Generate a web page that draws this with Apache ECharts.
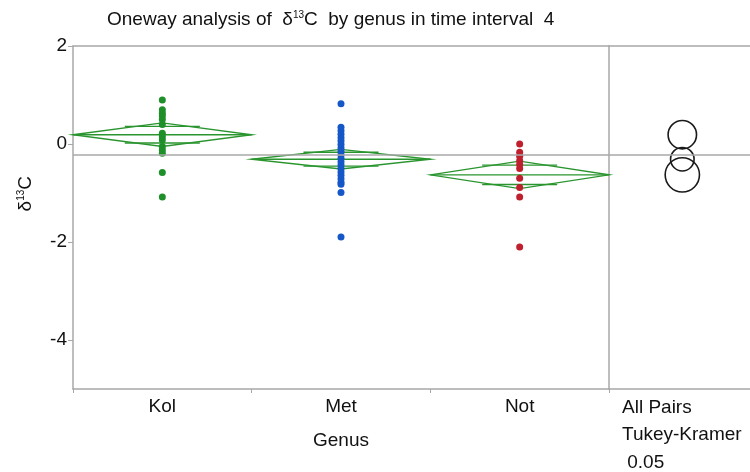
<!DOCTYPE html>
<html>
<head>
<meta charset="utf-8">
<script src="https://cdn.jsdelivr.net/npm/echarts@6/dist/echarts.min.js"></script>
<style>
  html, body { margin: 0; padding: 0; background: #fff; }
  #chart { width: 750px; height: 472px; }
</style>
</head>
<body>
<div id="chart"></div>
<script>
// genus categories and measured δ13C values
const genera = ['Kol', 'Met', 'Not']
const kolValues = [0.9, 0.7, 0.63, 0.57, 0.5, 0.4, 0.22, 0.15, 0.08, -0.05, -0.12, -0.19, -0.58, -1.08]
const metValues = [0.82, 0.34, 0.27, 0.2, 0.13, 0.06, -0.01, -0.08, -0.15, -0.22, -0.29, -0.36, -0.43, -0.5, -0.57, -0.64, -0.71, -0.78, -0.82, -0.99, -1.9]
const notValues = [0.0, -0.17, -0.25, -0.34, -0.42, -0.5, -0.7, -0.89, -1.08, -2.1]

// means diamonds + comparison circles
const groupMeans = [0.19, -0.31, -0.63]
const ciHalfWidths = [0.24, 0.2, 0.28]
const circleRadii = [0.29, 0.24, 0.35]
const grandMean = -0.22
const yTicks = [2, 0, -2, -4]

const FONT = '"Liberation Sans", Arial, sans-serif'
const AXIS_GRAY = '#a8a8a8'
const DIAMOND_GREEN = '#2a952f'
const pointColors = ['#1f8f2a', '#1657c8', '#c01f2e']

const chart = echarts.init(document.getElementById('chart'))

const toPoints = (values, idx) => values.map((v) => [idx, v])

// draws the means diamond with overlap marks for one group
const renderDiamond = (params, api) => {
  const mean = api.value(1)
  const hw = api.value(2)
  const c = api.coord([api.value(0), mean])
  const half = api.size([1, 0])[0] / 2
  const h = api.size([0, hw])[1]
  const ov = h / Math.SQRT2
  const markHalf = half * 0.42
  const style = { stroke: DIAMOND_GREEN, lineWidth: 1.4, fill: null }
  return {
    type: 'group',
    children: [
      {
        type: 'polygon',
        shape: { points: [[c[0] - half, c[1]], [c[0], c[1] - h], [c[0] + half, c[1]], [c[0], c[1] + h]] },
        style,
      },
      { type: 'line', shape: { x1: c[0] - half, y1: c[1], x2: c[0] + half, y2: c[1] }, style },
      { type: 'line', shape: { x1: c[0] - markHalf, y1: c[1] - ov, x2: c[0] + markHalf, y2: c[1] - ov }, style },
      { type: 'line', shape: { x1: c[0] - markHalf, y1: c[1] + ov, x2: c[0] + markHalf, y2: c[1] + ov }, style },
    ],
  }
}

// comparison circles (Tukey-Kramer)
const renderCircle = (params, api) => {
  const c = api.coord([api.value(0), api.value(1)])
  const r = api.size([0, api.value(2)])[1]
  return {
    type: 'circle',
    shape: { cx: c[0], cy: c[1], r },
    style: { stroke: '#1a1a1a', lineWidth: 1.6, fill: null },
  }
}

const grandMeanLine = {
  silent: true,
  symbol: 'none',
  label: { show: false },
  lineStyle: { color: AXIS_GRAY, width: 1.6, type: 'solid' },
  data: [{ yAxis: grandMean }],
}

const hiddenAxisParts = {
  axisTick: { show: false },
  axisLabel: { show: false },
  splitLine: { show: false },
}

const frameLine = { onZero: false, lineStyle: { color: AXIS_GRAY, width: 1.5 } }

const options = {
  animation: false,
  backgroundColor: '#fff',
  title: {
    text: 'Oneway analysis of  δ{sup|13}C  by genus in time interval  4',
    left: 102,
    top: 5,
    textStyle: {
      fontFamily: FONT,
      fontSize: 19,
      fontWeight: 'normal',
      color: '#111',
      rich: {
        sup: { fontFamily: FONT, fontSize: 10, verticalAlign: 'top', padding: [0, 0, 10, 0], color: '#111' },
      },
    },
  },
  grid: [
    { left: 73, right: 141, top: 46, bottom: 83 },
    { left: 609, right: 0, top: 46, bottom: 83 },
  ],
  xAxis: [
    {
      type: 'category',
      gridIndex: 0,
      data: genera,
      boundaryGap: true,
      axisLine: frameLine,
      axisTick: { show: true, length: 4, lineStyle: { color: AXIS_GRAY } },
      axisLabel: { color: '#111', fontFamily: FONT, fontSize: 19, margin: 8 },
      name: 'Genus',
      nameLocation: 'middle',
      nameGap: 42,
      nameTextStyle: { color: '#111', fontFamily: FONT, fontSize: 19 },
    },
    {
      type: 'category',
      gridIndex: 0,
      data: genera,
      position: 'top',
      axisLine: frameLine,
      ...hiddenAxisParts,
    },
    {
      type: 'value',
      gridIndex: 1,
      min: 0,
      max: 1,
      axisLine: frameLine,
      ...hiddenAxisParts,
    },
    {
      type: 'value',
      gridIndex: 1,
      min: 0,
      max: 1,
      position: 'top',
      axisLine: frameLine,
      ...hiddenAxisParts,
    },
  ],
  yAxis: [
    {
      type: 'value',
      gridIndex: 0,
      min: -5,
      max: 2,
      axisLine: { show: true, ...frameLine },
      axisTick: { show: true, length: 5, customValues: yTicks, lineStyle: { color: AXIS_GRAY } },
      axisLabel: { customValues: yTicks, color: '#111', fontFamily: FONT, fontSize: 19, margin: 6 },
      splitLine: { show: false },
    },
    {
      type: 'value',
      gridIndex: 1,
      min: -5,
      max: 2,
      axisLine: { show: true, ...frameLine },
      ...hiddenAxisParts,
    },
  ],
  series: [
    {
      type: 'custom',
      xAxisIndex: 0,
      yAxisIndex: 0,
      renderItem: renderDiamond,
      data: genera.map((g, i) => [i, groupMeans[i], ciHalfWidths[i]]),
      markLine: grandMeanLine,
      z: 2,
    },
    ...[kolValues, metValues, notValues].map((vals, i) => ({
      type: 'scatter',
      xAxisIndex: 0,
      yAxisIndex: 0,
      symbol: 'circle',
      symbolSize: 7,
      itemStyle: { color: pointColors[i], opacity: 1 },
      data: toPoints(vals, i),
      z: 3,
    })),
    {
      type: 'custom',
      xAxisIndex: 2,
      yAxisIndex: 1,
      renderItem: renderCircle,
      data: groupMeans.map((m, i) => [0.52, m, circleRadii[i]]),
      markLine: grandMeanLine,
    },
  ],
  graphic: [
    {
      type: 'text',
      left: 16,
      top: 176,
      rotation: Math.PI / 2,
      style: {
        text: 'δ{sup|13}C',
        fontFamily: FONT,
        fontSize: 19,
        fill: '#111',
        rich: { sup: { fontFamily: FONT, fontSize: 10, verticalAlign: 'top', padding: [0, 0, 9, 0] } },
      },
    },
    {
      type: 'text',
      left: 622,
      top: 394,
      style: {
        text: 'All Pairs\nTukey-Kramer\n 0.05',
        fontFamily: FONT,
        fontSize: 19,
        lineHeight: 27.5,
        fill: '#111',
      },
    },
  ],
}

chart.setOption(options)
</script>
</body>
</html>
